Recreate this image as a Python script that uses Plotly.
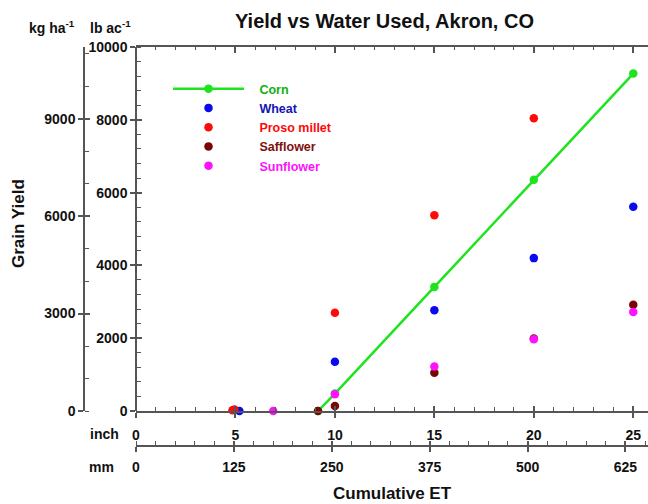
import plotly.graph_objects as go

# ---- data ----
corn_et = [9.15, 10, 15, 20, 25]
corn_yield = [0, 480, 3410, 6350, 9270]
wheat_et = [5.2, 10, 15, 20, 25]
wheat_yield = [0, 1350, 2770, 4200, 5610]
proso_et = [4.85, 4.95, 10, 15, 20]
proso_yield = [20, 40, 2700, 5380, 8040]
safflower_et = [9.15, 10, 15, 20, 25]
safflower_yield = [0, 140, 1050, 1990, 2920]
sunflower_et = [6.9, 10, 15, 20, 25]
sunflower_yield = [0, 460, 1220, 1970, 2720]

series_names = ["Corn", "Wheat", "Proso millet", "Safflower", "Sunflower"]
mark_colors = ["#1ee31e", "#0a0af0", "#ff0a0a", "#7a0505", "#ff10ff"]
text_colors = ["#10b010", "#1414b4", "#ff0a0a", "#801010", "#ff10ff"]

inch_max = 25.74
MM_PER_INCH = 25.4
LB_TO_KG = 1.12085
lb_max = 10000

FONT = "Liberation Sans, Arial, sans-serif"
AX = "#555555"
tickfont = dict(family=FONT, size=14, color="#111111", weight="bold")

fig = go.Figure()

data = [
    (corn_et, corn_yield),
    (wheat_et, wheat_yield),
    (proso_et, proso_yield),
    (safflower_et, safflower_yield),
    (sunflower_et, sunflower_yield),
]
for i, (xs, ys) in enumerate(data):
    fig.add_trace(go.Scatter(
        x=xs, y=ys,
        mode="lines+markers" if i == 0 else "markers",
        name=f"&nbsp;&nbsp;&nbsp;<span style='color:{text_colors[i]}'>{series_names[i]}</span>",
        line=dict(color=mark_colors[i], width=2.5),
        marker=dict(color=mark_colors[i], size=8.5),
        cliponaxis=False,
    ))

# empty helper traces so every auxiliary axis is registered
for xa, ya in [("x2", "y"), ("x3", "y"), ("x4", "y"), ("x5", "y"),
               ("x", "y2"), ("x", "y3"), ("x", "y4")]:
    fig.add_trace(go.Scatter(x=[None], y=[None], xaxis=xa, yaxis=ya,
                             showlegend=False, hoverinfo="skip"))

l_px, r_px, t_px, b_px = 84, 0, 47, 58
W, H = 648, 504
pw = W - l_px - r_px
ph = H - t_px - b_px
x0 = (136 - l_px) / pw
y0 = (446 - 411) / ph

common = dict(showgrid=False, zeroline=False, tickcolor=AX, tickwidth=1.5,
              linecolor=AX, linewidth=1.5, tickformat="d")

fig.update_layout(
    width=W, height=H,
    margin=dict(l=l_px, r=r_px, t=t_px, b=b_px, autoexpand=False),
    paper_bgcolor="white", plot_bgcolor="white",
    font=dict(family=FONT, size=14, color="#111111", weight="bold"),
    title=dict(text="Yield vs Water Used, Akron, CO", x=(384.5 - l_px) / pw,
               xref="paper", xanchor="center", y=1 - 21 / H, yanchor="middle",
               font=dict(family=FONT, size=20, color="#111111", weight="bold")),
    showlegend=True,
    legend=dict(x=(168 - l_px) / pw, y=(446 - 74) / ph, xanchor="left", yanchor="top",
                bgcolor="rgba(0,0,0,0)", font=dict(family=FONT, size=12.5, weight="bold"),
                itemwidth=71, tracegroupgap=0),
    xaxis=dict(domain=[x0, 1], range=[0, inch_max], anchor="y", showline=True,
               ticks="outside", ticklen=5, dtick=5, tick0=0,
               minor=dict(dtick=1, tick0=0, ticks="inside", ticklen=4, tickcolor=AX, tickwidth=1.2),
               tickfont=tickfont, ticklabelstandoff=5, **common),
    xaxis4=dict(overlaying="x", anchor="y", range=[0, inch_max], showline=False,
                ticks="inside", ticklen=5, dtick=5, tick0=0, showticklabels=False, **common),
    xaxis3=dict(overlaying="x", anchor="y", side="top", range=[0, inch_max], showline=True,
                ticks="inside", ticklen=6, dtick=5, tick0=0, showticklabels=False,
                minor=dict(dtick=1, tick0=0, ticks="inside", ticklen=3, tickcolor=AX, tickwidth=1.2),
                **common),
    xaxis2=dict(overlaying="x", anchor="free", position=0, range=[0, inch_max * MM_PER_INCH],
                showline=True, ticks="outside", ticklen=5, dtick=125, tick0=0,
                minor=dict(dtick=25, tick0=0, ticks="inside", ticklen=4, tickcolor=AX, tickwidth=1.2),
                tickfont=tickfont, ticklabelstandoff=3, **common),
    xaxis5=dict(overlaying="x", anchor="free", position=0, range=[0, inch_max * MM_PER_INCH],
                showline=False, ticks="inside", ticklen=5, dtick=125, tick0=0,
                showticklabels=False, **common),
    yaxis=dict(domain=[y0, 1], range=[0, lb_max], anchor="free", position=x0, showline=True,
               ticks="outside", ticklen=5, dtick=2000, tick0=0,
               minor=dict(dtick=400, tick0=0, ticks="inside", ticklen=4, tickcolor=AX, tickwidth=1.2),
               tickfont=tickfont, **common),
    yaxis3=dict(overlaying="y", anchor="free", position=x0, range=[0, lb_max], showline=False,
                ticks="inside", ticklen=5, dtick=2000, tick0=0, showticklabels=False, **common),
    yaxis2=dict(overlaying="y", anchor="free", position=0, range=[0, lb_max * LB_TO_KG],
                showline=True, ticks="outside", ticklen=5, dtick=3000, tick0=0,
                minor=dict(dtick=1000, tick0=0, ticks="inside", ticklen=4, tickcolor=AX, tickwidth=1.2),
                tickfont=tickfont, **common),
    yaxis4=dict(overlaying="y", anchor="free", position=0, range=[0, lb_max * LB_TO_KG],
                showline=False, ticks="inside", ticklen=5, dtick=3000, tick0=0,
                showticklabels=False, **common),
)


def label(text, px, py, xanchor="center", size=14, angle=0):
    fig.add_annotation(text=text, xref="paper", yref="paper",
                       x=(px - l_px) / pw, y=(446 - py) / ph,
                       xanchor=xanchor, yanchor="middle", textangle=angle,
                       showarrow=False,
                       font=dict(family=FONT, size=size, color="#111111", weight="bold"))


label("kg ha<sup>-1</sup>", 51.5, 27)
label("lb ac<sup>-1</sup>", 110.5, 27)
label("inch", 121, 434, xanchor="right")
label("mm", 116, 467, xanchor="right")
label("Grain Yield", 18, 224, size=17, angle=-90)
label("Cumulative ET", 392, 493, size=17)

fig.write_html("out.html",
               config={"displayModeBar": False},
               post_script="document.body.style.margin='0';document.body.style.padding='0';"
                           "document.documentElement.style.overflow='hidden';")
